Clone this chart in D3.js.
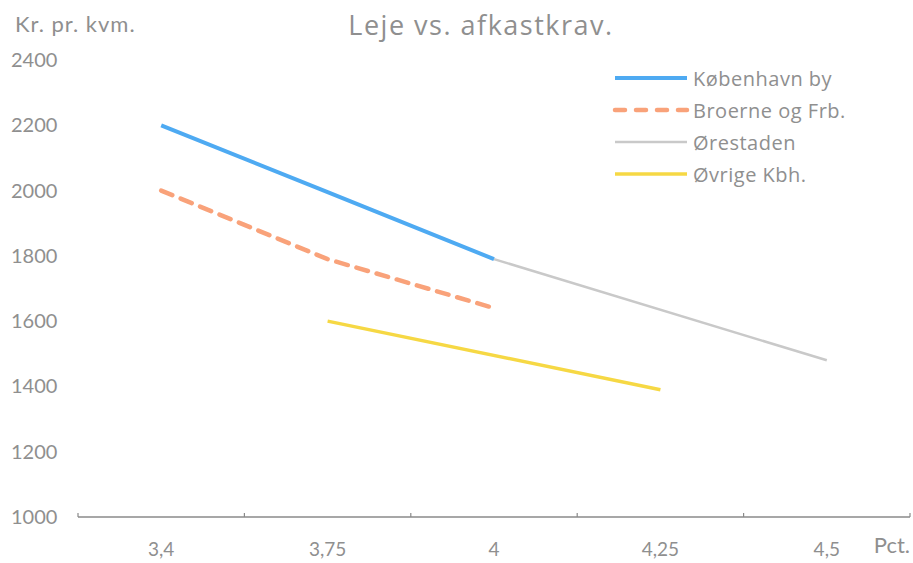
<!DOCTYPE html>
<html>
<head>
<meta charset="utf-8">
<script src="https://cdn.jsdelivr.net/npm/d3@7"></script>
<style>
  body { margin: 0; background: #fff; }
  #chart-container { width: 913px; height: 563px; }
  text { font-family: Lato, "Open Sans", sans-serif; fill: #8f8f8f; }
</style>
</head>
<body>
<div id="chart-container"></div>
<script>
(function() {
  const categories = ['3,4', '3,75', '4', '4,25', '4,5'];
  const yTicks = [1000, 1200, 1400, 1600, 1800, 2000, 2200, 2400];

  const koebenhavn = [2200, 1995, 1790, null, null];
  const broerne = [2000, 1790, 1640, null, null];
  const oerestaden = [null, null, 1790, null, 1480];
  const oevrige = [null, 1600, null, 1390, null];

  const series = [
    { name: 'København by', values: koebenhavn, color: '#4eaaf2', width: 4, dash: null },
    { name: 'Broerne og Frb.', values: broerne, color: '#f9a27a', width: 4.5, dash: '12,9' },
    { name: 'Ørestaden', values: oerestaden, color: '#c9c9c9', width: 2.5, dash: null },
    { name: 'Øvrige Kbh.', values: oevrige, color: '#f6d844', width: 3.5, dash: null }
  ];

  const width = 913, height = 563;
  const margin = { top: 60, right: 3, bottom: 46, left: 78 };
  const innerWidth = width - margin.left - margin.right;
  const innerHeight = height - margin.top - margin.bottom;

  const svg = d3.select('#chart-container')
    .append('svg')
    .attr('width', width)
    .attr('height', height);

  const g = svg.append('g')
    .attr('transform', `translate(${margin.left},${margin.top})`);

  const xScale = d3.scaleBand()
    .domain(categories)
    .range([0, innerWidth]);

  const yScale = d3.scaleLinear()
    .domain([1000, 2400])
    .range([innerHeight, 0]);

  // title
  svg.append('text')
    .attr('x', 481)
    .attr('y', 35)
    .attr('text-anchor', 'middle')
    .style('font-family', '"Open Sans", sans-serif')
    .style('font-size', '27px')
    .style('letter-spacing', '1.5px')
    .text('Leje vs. afkastkrav.');

  svg.append('text')
    .attr('x', 15)
    .attr('y', 32)
    .style('font-size', '22px')
    .style('letter-spacing', '1px')
    .text('Kr. pr. kvm.');

  // y labels
  g.selectAll('.y-label')
    .data(yTicks)
    .enter()
    .append('text')
    .attr('class', 'y-label')
    .attr('x', -67)
    .attr('y', d => yScale(d) + 7)
    .style('font-size', '20px')
    .text(d => d);

  // x axis
  g.append('line')
    .attr('x1', 0)
    .attr('x2', innerWidth)
    .attr('y1', innerHeight)
    .attr('y2', innerHeight)
    .style('stroke', '#8a8a8a')
    .style('stroke-width', 1.5);

  const bounds = categories.map(c => xScale(c)).concat([innerWidth]);
  g.selectAll('.x-tick')
    .data(bounds)
    .enter()
    .append('line')
    .attr('x1', d => d)
    .attr('x2', d => d)
    .attr('y1', innerHeight - 4)
    .attr('y2', innerHeight)
    .style('stroke', '#8a8a8a')
    .style('stroke-width', 1.2);

  g.selectAll('.x-label')
    .data(categories)
    .enter()
    .append('text')
    .attr('x', d => xScale(d) + xScale.bandwidth() / 2)
    .attr('y', innerHeight + 39)
    .attr('text-anchor', 'middle')
    .style('font-size', '19px')
    .text(d => d);

  svg.append('text')
    .attr('x', 910)
    .attr('y', 553)
    .attr('text-anchor', 'end')
    .style('font-size', '22px')
    .text('Pct.');

  const line = d3.line()
    .defined(d => d.v != null)
    .x(d => xScale(d.c) + xScale.bandwidth() / 2)
    .y(d => yScale(d.v));

  // draw Ørestaden first so blue sits on top at the join
  const order = [2, 3, 1, 0];
  order.forEach(i => {
    const s = series[i];
    const pts = categories.map((c, j) => ({ c, v: s.values[j] })).filter(d => d.v != null);
    g.append('path')
      .datum(pts)
      .attr('d', line)
      .style('fill', 'none')
      .style('stroke', s.color)
      .style('stroke-width', s.width)
      .style('stroke-linecap', s.dash ? 'round' : 'butt')
      .style('stroke-dasharray', s.dash);
  });

  // legend
  const legend = svg.append('g')
    .attr('transform', 'translate(615,78)');

  legend.selectAll('g')
    .data(series)
    .enter()
    .append('g')
    .attr('transform', (d, i) => `translate(0, ${i * 32})`)
    .each(function(d) {
      const el = d3.select(this);
      el.append('line')
        .attr('x1', 0)
        .attr('x2', 72)
        .attr('y1', 0)
        .attr('y2', 0)
        .style('stroke', d.color)
        .style('stroke-width', d.width)
        .style('stroke-linecap', d.dash ? 'round' : 'butt')
        .style('stroke-dasharray', d.dash ? '10,11' : null);
      el.append('text')
        .attr('x', 78)
        .attr('y', 8)
        .style('font-family', '"Open Sans", sans-serif')
        .style('font-size', '20px')
        .style('letter-spacing', '0.5px')
        .text(d.name);
    });
})();
</script>
</body>
</html>
